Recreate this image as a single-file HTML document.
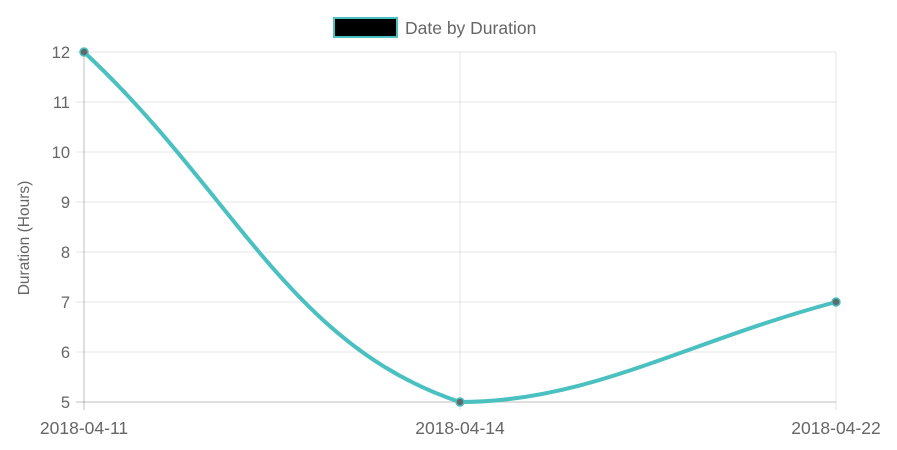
<!DOCTYPE html>
<html><head><meta charset="utf-8"><style>
html,body{margin:0;padding:0;background:#fff;}
svg{display:block;font-family:"Liberation Sans",Arial,sans-serif;}
</style></head><body>
<svg id="chart" width="897" height="450">
<g id="grid"></g>
<g id="axes"></g>
<g>
<rect x="334" y="18" width="63" height="19" fill="#000" stroke="rgb(75,192,192)" stroke-width="2"/>
<text x="405" y="34" font-size="17.5" fill="#666">Date by Duration</text>
</g>
<text transform="translate(29,238) rotate(-90)" text-anchor="middle" font-size="15.5" fill="#666">Duration (Hours)</text>
<g id="series"></g>
</svg>
<script>
const categories = ["2018-04-11","2018-04-14","2018-04-22"];
const durations = [12,5,7];
const yTicks = [5,6,7,8,9,10,11,12];

const L=84,R=836,T=52,B=402,yMin=5,yMax=12;
const NS="http://www.w3.org/2000/svg";
function xs(i){return L+(R-L)*i/(categories.length-1);}
function ys(v){return B-(v-yMin)/(yMax-yMin)*(B-T);}
function mk(tag,attrs,parent){const e=document.createElementNS(NS,tag);for(const k in attrs)e.setAttribute(k,attrs[k]);parent.appendChild(e);return e;}
const grid=document.getElementById('grid'),axes=document.getElementById('axes'),series=document.getElementById('series');

yTicks.forEach(v=>{
  const y=ys(v);
  const g=mk('line',{x1:L-8,x2:R,y1:y,y2:y,stroke:v===yMin?'rgba(0,0,0,0.25)':'rgba(0,0,0,0.1)','stroke-width':1},grid);
  
  
  const t=mk('text',{x:L-14,y:y+6,'text-anchor':'end','font-size':16.5,fill:'#666'},axes);
  t.textContent=v;
  
  
});
categories.forEach((c,i)=>{
  const x=xs(i);
  const g=mk('line',{x1:x,x2:x,y1:T,y2:B+8,stroke:i===0?'rgba(0,0,0,0.25)':'rgba(0,0,0,0.1)','stroke-width':1},grid);
  
  
  const t=mk('text',{x:x,y:B+32,'text-anchor':'middle','font-size':17.5,fill:'#666'},axes);
  t.textContent=c;
  
  
});

const pts=durations.map((v,i)=>({x:xs(i),y:ys(v)}));
const tension=0.4;
const cps=pts.map((p,i)=>{
  const prev=pts[i-1]||p,next=pts[i+1]||p;
  const d01=Math.hypot(p.x-prev.x,p.y-prev.y),d12=Math.hypot(next.x-p.x,next.y-p.y);
  let s01=d01/(d01+d12),s12=d12/(d01+d12);
  if(isNaN(s01))s01=0;if(isNaN(s12))s12=0;
  const fa=tension*s01,fb=tension*s12;
  const cl=v=>({x:Math.max(L,Math.min(R,v.x)),y:Math.max(T,Math.min(B,v.y))});
  return {p:cl({x:p.x-fa*(next.x-prev.x),y:p.y-fa*(next.y-prev.y)}),n:cl({x:p.x+fb*(next.x-prev.x),y:p.y+fb*(next.y-prev.y)})};
});
let d=`M${pts[0].x},${pts[0].y}`;
for(let i=1;i<pts.length;i++){d+=` C${cps[i-1].n.x},${cps[i-1].n.y} ${cps[i].p.x},${cps[i].p.y} ${pts[i].x},${pts[i].y}`;}
const line=mk('path',{d:d,fill:'none',stroke:'rgb(75,192,192)','stroke-width':4},series);


pts.forEach(p=>{
  const c=mk('circle',{cx:p.x,cy:p.y,r:4,fill:'#5f6b6b',stroke:'rgb(75,192,192)','stroke-width':1.5},series);
  
  
});
</script>
</body></html>
